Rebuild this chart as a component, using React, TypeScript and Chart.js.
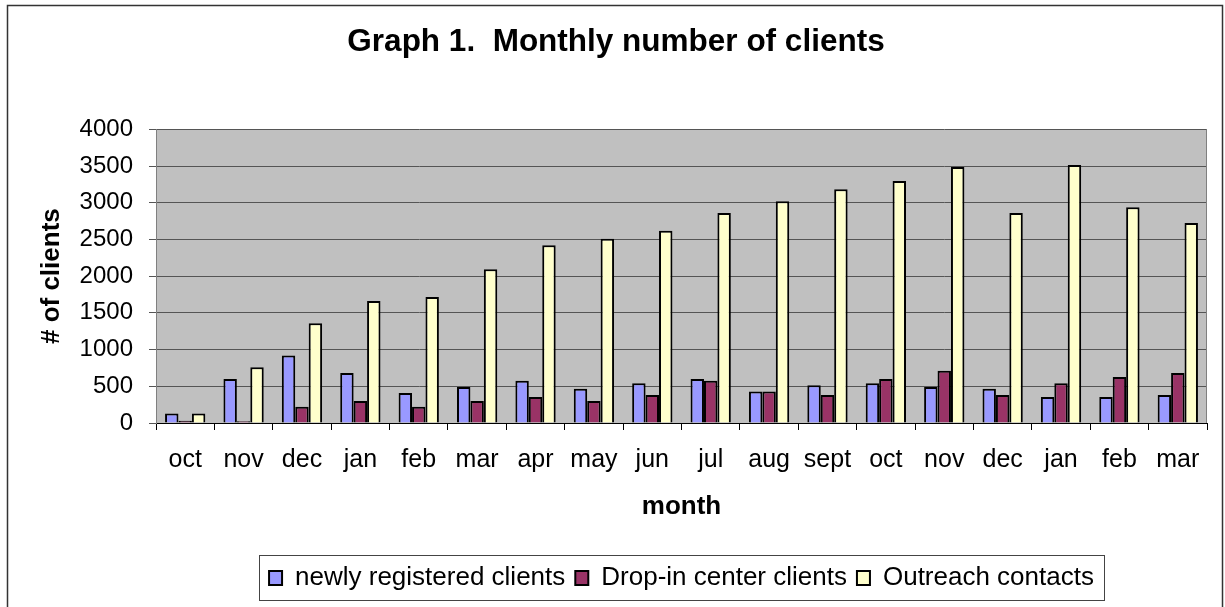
import React, { useEffect, useRef } from 'react';
import { Chart, registerables } from 'chart.js';

Chart.register(...registerables);

const months = ['oct', 'nov', 'dec', 'jan', 'feb', 'mar', 'apr', 'may', 'jun', 'jul', 'aug', 'sept', 'oct', 'nov', 'dec', 'jan', 'feb', 'mar'];
const newlyRegistered = [130, 600, 920, 680, 410, 490, 575, 465, 540, 600, 430, 515, 540, 490, 465, 355, 355, 380];
const dropInCenter = [30, 25, 220, 300, 220, 300, 355, 300, 380, 575, 430, 380, 600, 710, 380, 540, 625, 680];
const outreachContacts = [130, 760, 1360, 1660, 1715, 2095, 2420, 2510, 2620, 2860, 3020, 3185, 3295, 3485, 2860, 3515, 2940, 2725];
const seriesNames = ['newly registered clients', 'Drop-in center clients', 'Outreach contacts'];
const yMin = 0;
const yMax = 4000;
const yStep = 500;

const FONT = "'Liberation Sans', Arial, sans-serif";

export default function App() {
  const ref = useRef<HTMLCanvasElement>(null);

  useEffect(() => {
    if (!ref.current) return;
    Chart.defaults.font.family = FONT;
    Chart.defaults.color = '#000';

    const decor = {
      id: 'decor',
      beforeDraw(chart: any) {
        const { ctx, chartArea: a } = chart;
        ctx.save();
        ctx.fillStyle = '#ffffff';
        ctx.fillRect(0, 0, chart.width, chart.height);
        ctx.fillStyle = '#C0C0C0';
        ctx.fillRect(a.left, a.top, a.right - a.left, a.bottom - a.top);
        ctx.restore();
      },
      beforeDatasetsDraw(chart: any) {
        const { ctx, chartArea: a } = chart;
        ctx.save();
        ctx.strokeStyle = '#808080';
        ctx.lineWidth = 1;
        ctx.beginPath();
        ctx.moveTo(Math.round(a.right) - 0.5, a.top);
        ctx.lineTo(Math.round(a.right) - 0.5, a.bottom);
        ctx.stroke();
        ctx.restore();
      },
      afterDraw(chart: any) {
        const { ctx } = chart;
        ctx.save();
        const lg = chart.legend;
        if (lg && lg.legendHitBoxes && lg.legendHitBoxes.length) {
          const hb = lg.legendHitBoxes;
          const l = Math.min(...hb.map((h: any) => h.left)) - 10;
          const r = Math.max(...hb.map((h: any) => h.left + h.width)) + 10;
          ctx.strokeStyle = '#444';
          ctx.lineWidth = 1;
          ctx.strokeRect(Math.round(l) + 0.5, Math.round(lg.top) + 0.5, Math.round(r - l), Math.round(lg.bottom - lg.top) - 1);
        }
        ctx.strokeStyle = '#333';
        ctx.lineWidth = 1.5;
        ctx.strokeRect(7.5, 5.5, 1215, 700);
        ctx.restore();
      },
    };

    const chart = new Chart(ref.current, {
      type: 'bar',
      data: {
        labels: months,
        datasets: [
          { label: seriesNames[0], data: newlyRegistered, backgroundColor: '#9999FF', borderColor: '#000', borderWidth: 2 },
          { label: seriesNames[1], data: dropInCenter, backgroundColor: '#993366', borderColor: '#000', borderWidth: 2 },
          { label: seriesNames[2], data: outreachContacts, backgroundColor: '#FFFFCC', borderColor: '#000', borderWidth: 2 },
        ],
      },
      options: {
        responsive: false,
        animation: false,
        devicePixelRatio: 1,
        layout: { padding: { top: 0, left: 25, right: 18, bottom: 6 } },
        datasets: { bar: { categoryPercentage: 0.69, barPercentage: 1 } },
        plugins: {
          title: {
            display: true,
            text: 'Graph 1.  Monthly number of clients',
            color: '#000',
            font: { size: 31.5, weight: 'bold', family: FONT },
            padding: { top: 23.8, bottom: 67.7 },
          },
          legend: {
            position: 'bottom',
            fullSize: false,
            labels: {
              boxWidth: 13,
              boxHeight: 14,
              padding: 10,
              color: '#000',
              font: { size: 26, family: FONT },
            },
          },
          tooltip: { enabled: false },
        },
        scales: {
          x: {
            afterFit: (s: any) => { s.height = 132; },
            grid: { display: true, drawOnChartArea: false, drawTicks: true, tickLength: 7, color: '#000', offset: true },
            border: { color: '#000', width: 1 },
            ticks: { font: { size: 25, family: FONT }, color: '#000', padding: 15, autoSkip: false, maxRotation: 0 },
            title: { display: true, text: 'month', color: '#000', font: { size: 26, weight: 'bold', family: FONT }, padding: { top: 0, bottom: 33 } },
          },
          y: {
            min: yMin,
            max: yMax,
            afterFit: (s: any) => { s.width = 131; },
            grid: { color: '#555', lineWidth: 1, drawTicks: true, tickLength: 7 },
            border: { color: '#808080', width: 1 },
            ticks: {
              stepSize: yStep,
              font: { size: 24, family: FONT },
              color: '#000',
              padding: 16,
              callback: (v: any) => String(v),
            },
            title: { display: true, text: '# of clients', color: '#000', font: { size: 26, weight: 'bold', family: FONT }, padding: { top: 11, bottom: 0 } },
          },
        },
      },
      plugins: [decor],
    } as any);

    return () => chart.destroy();
  }, []);

  return (
    <div style={{ position: 'fixed', left: 0, top: 0, width: 1225, height: 607, background: '#fff' }}>
      <canvas ref={ref} width={1225} height={607} style={{ display: 'block' }} />
    </div>
  );
}
